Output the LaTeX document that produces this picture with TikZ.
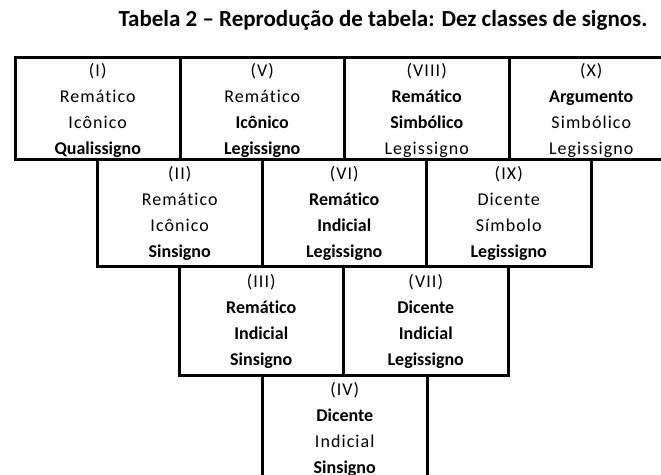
\documentclass[tikz,border=0pt]{standalone}
\usepackage{fontspec}
\setmainfont{Carlito}[Ligatures={NoCommon}, UprightFeatures={LetterSpace=6}]
\usetikzlibrary{positioning}

\tikzset{
  signbox/.style={draw, line width=3pt, minimum width=164.5pt, inner sep=0pt,
    anchor=north west},
  signtext/.style={inner sep=0pt, align=center,
    font=\fontsize{18}{26}\selectfont},
}

\begin{document}
\begin{tikzpicture}[x=1pt,y=1pt]
  \clip (0,0) rectangle (661,-474);

  % Title
  \node[font=\fontsize{23}{26}\selectfont\bfseries] (title) at (383,-20)
    {Tabela 2 -- Reprodução de tabela: Dez classes de signos.};

  % Row tops
  \def\rowA{-56}
  \def\rowB{-158}
  \def\rowC{-265}
  \def\rowD{-374}

  % --- First row ---
  \node[signbox, minimum height=102pt] (c1) at (14,\rowA) {};
  \node[signbox, minimum height=102pt] (c5) at (178.5,\rowA) {};
  \node[signbox, minimum height=102pt] (c8) at (343,\rowA) {};
  \node[signbox, minimum height=102pt] (c10) at (507.5,\rowA) {};
  \node[signtext, below=7.5pt of c1.north] (t1)
    {(I)\\Remático\\Icônico\\\textbf{Qualissigno}};
  \node[signtext, below=7.5pt of c5.north] (t5)
    {(V)\\Remático\\\textbf{Icônico}\\\textbf{Legissigno}};
  \node[signtext, below=7.5pt of c8.north] (t8)
    {(VIII)\\\textbf{Remático}\\\textbf{Simbólico}\\Legissigno};
  \node[signtext, below=7.5pt of c10.north] (t10)
    {(X)\\\textbf{Argumento}\\Simbólico\\Legissigno};

  % --- Second row ---
  \node[signbox, minimum height=107pt] (c2) at (96,\rowB) {};
  \node[signbox, minimum height=107pt] (c6) at (260.5,\rowB) {};
  \node[signbox, minimum height=107pt] (c9) at (425,\rowB) {};
  \node[signtext, below=8pt of c2.north] (t2)
    {(II)\\Remático\\Icônico\\\textbf{Sinsigno}};
  \node[signtext, below=8pt of c6.north] (t6)
    {(VI)\\\textbf{Remático}\\\textbf{Indicial}\\\textbf{Legissigno}};
  \node[signtext, below=8pt of c9.north] (t9)
    {(IX)\\Dicente\\Símbolo\\\textbf{Legissigno}};

  % --- Third row ---
  \node[signbox, minimum height=109pt] (c3) at (177.5,\rowC) {};
  \node[signbox, minimum height=109pt] (c7) at (342,\rowC) {};
  \node[signtext, below=9pt of c3.north] (t3)
    {(III)\\\textbf{Remático}\\\textbf{Indicial}\\\textbf{Sinsigno}};
  \node[signtext, below=9pt of c7.north] (t7)
    {(VII)\\\textbf{Dicente}\\\textbf{Indicial}\\\textbf{Legissigno}};

  % --- Last row ---
  \node[signbox, minimum height=110pt] (c4) at (261,\rowD) {};
  \node[signtext, below=8pt of c4.north] (t4)
    {(IV)\\\textbf{Dicente}\\Indicial\\\textbf{Sinsigno}};
\end{tikzpicture}
\end{document}
